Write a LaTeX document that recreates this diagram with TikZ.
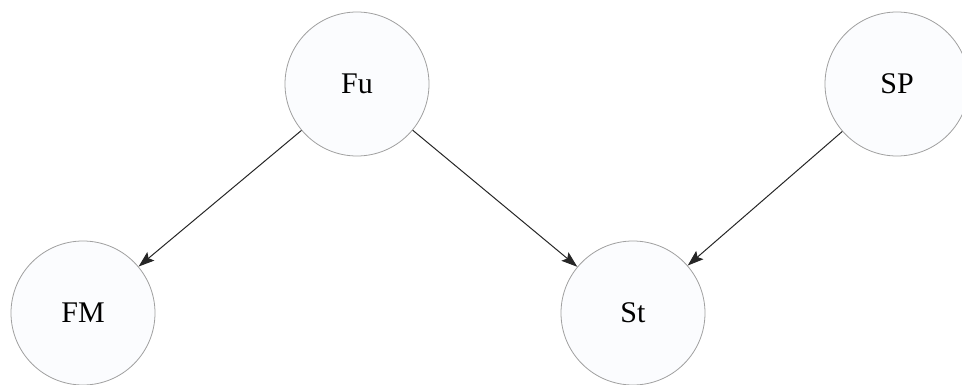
\documentclass[tikz,border=0pt]{standalone}
\usepackage{fontspec}
\setmainfont{Liberation Serif}
\usetikzlibrary{arrows.meta}
\definecolor{nodefill}{HTML}{FBFCFE}
\definecolor{nodeline}{HTML}{A0A0A0}
\begin{document}
\begin{tikzpicture}[x=1pt,y=-1pt,
  varnode/.style={circle,draw=nodeline,fill=nodefill,line width=0.8pt,minimum size=144pt,inner sep=0pt,font=\fontsize{30}{33}\selectfont},
  edge/.style={draw=black!85,line width=1pt,-{Stealth[length=16pt,width=11pt,inset=3pt]}}]
\useasboundingbox (0,0) rectangle (962,385);
\node[varnode] (Fu) at (357,84) {Fu};
\node[varnode] (SP) at (897,84) {SP};
\node[varnode] (FM) at (83,313) {FM};
\node[varnode] (St) at (633,313) {St};
\draw[edge] (Fu) -- (FM);
\draw[edge] (Fu) -- (St);
\draw[edge] (SP) -- (St);
\end{tikzpicture}
\end{document}
